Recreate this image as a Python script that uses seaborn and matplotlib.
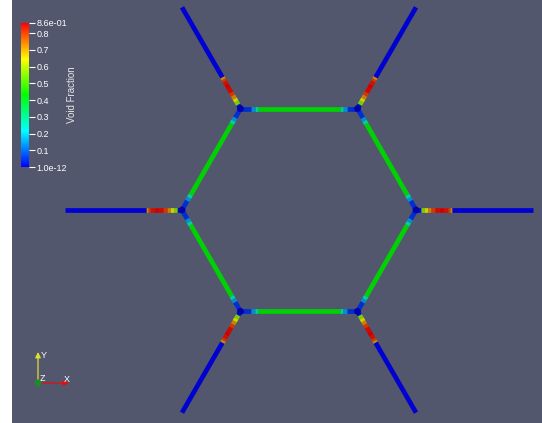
import numpy as np
import matplotlib
matplotlib.use("Agg")
import matplotlib.pyplot as plt
from matplotlib.collections import LineCollection
from matplotlib.colors import Normalize, to_rgb
from matplotlib.cm import ScalarMappable
from matplotlib.patches import Ellipse
import seaborn as sns

# Void fraction along each outer leg, from the hexagon junction outward
# (break positions are fractions of the leg length)
leg_breaks = [0.0, 0.04, 0.07, 0.10, 0.13, 0.16, 0.20, 0.24, 0.27, 0.29, 0.31, 1.0]
leg_values = [0.02, 0.55, 0.64, 0.73, 0.80, 0.85, 0.86, 0.84, 0.80, 0.72, 0.0]

# Void fraction along each hexagon edge, corner to corner
edge_breaks = [0.0, 0.09, 0.12, 0.15, 0.85, 0.88, 0.91, 1.0]
edge_values = [0.05, 0.15, 0.27, 0.43, 0.27, 0.15, 0.05]

# Void fraction at the six junctions
junction_value = 0.0

# Colour bar range and ticks
vmin, vmax = 1.0e-12, 0.86
cbar_ticks = [1.0e-12, 0.1, 0.2, 0.3, 0.4, 0.5, 0.6, 0.7, 0.8, 0.86]
cbar_labels = ["1.0e-12", "0.1", "0.2", "0.3", "0.4", "0.5", "0.6", "0.7", "0.8", "8.6e-01"]
cbar_title = "Void Fraction"

# Network geometry: regular hexagon with radial legs of the same length
R = 1.0
node_angles = np.deg2rad([0, 60, 120, 180, 240, 300])

W, H = 542, 423
BG = "#52576e"
sns.set_theme(style="white")
plt.rcParams["font.family"] = ["Liberation Sans", "DejaVu Sans"]

fig = plt.figure(figsize=(W / 100, H / 100), dpi=100, facecolor="white")
ax = fig.add_axes([12 / W, 0, (W - 12) / W, 1])
ax.set_facecolor(BG)
for sp in ax.spines.values():
    sp.set_visible(False)
ax.set_xticks([])
ax.set_yticks([])

# pixel scale of one radius, and view centre in figure pixels
scale = 117.0
cx, cy = 299.0, 210.0
ax.set_xlim(-(cx - 12) / scale, (W - cx) / scale)
ax.set_ylim(-(H - cy) / scale, cy / scale)

rainbow = ["#0000ff", "#00ffff", "#00ff00", "#ffff00", "#ff0000"]
bar_cmap = sns.blend_palette(rainbow, as_cmap=True)
shade = 0.82
line_cmap = sns.blend_palette([tuple(c * shade for c in to_rgb(h)) for h in rainbow], as_cmap=True)
norm = Normalize(vmin=vmin, vmax=vmax)

verts = np.column_stack([R * np.cos(node_angles), R * np.sin(node_angles)])

segs, vals = [], []
for k in range(6):
    v = verts[k]
    u = v / np.linalg.norm(v)
    for i, val in enumerate(leg_values):
        p0 = v + u * leg_breaks[i] * R
        p1 = v + u * leg_breaks[i + 1] * R
        segs.append([p0, p1])
        vals.append(val)
    a, b = verts[k], verts[(k + 1) % 6]
    for i, val in enumerate(edge_values):
        p0 = a + (b - a) * edge_breaks[i]
        p1 = a + (b - a) * edge_breaks[i + 1]
        segs.append([p0, p1])
        vals.append(val)

lc = LineCollection(segs, cmap=line_cmap, norm=norm, linewidths=3.4, capstyle="butt")
lc.set_array(np.array(vals))
ax.add_collection(lc)

# darker, rounded junction knuckles
junction_cmap = sns.blend_palette([tuple(c * 0.68 for c in to_rgb(h)) for h in rainbow], as_cmap=True)
ax.scatter(verts[:, 0], verts[:, 1], c=[junction_value] * 6, cmap=junction_cmap, norm=norm,
           s=24, linewidths=0, zorder=3)

# colour bar
cax = fig.add_axes([21 / W, 1 - 167 / H, 8 / W, 144 / H])
cb = fig.colorbar(ScalarMappable(norm=norm, cmap=bar_cmap), cax=cax)
cb.outline.set_visible(False)
cb.set_ticks(cbar_ticks)
cb.set_ticklabels(cbar_labels)
cax.tick_params(axis="y", colors="white", labelcolor="white", length=4.3, width=0.8,
                pad=1.2, labelsize=6.5, direction="out", right=True, left=False)
fig.text(72 / W, 1 - 95 / H, cbar_title, rotation=90, ha="center", va="center",
         color="#e8e8e8", fontsize=7)

# orientation triad
ox, oy = 38, H - 383
ax.annotate("", xy=(ox, H - 352), xytext=(ox, oy), xycoords="figure pixels",
            textcoords="figure pixels",
            arrowprops=dict(arrowstyle="-|>", color="#e0e030", lw=0.9, mutation_scale=8,
                            shrinkA=0, shrinkB=0))
ax.annotate("", xy=(69, oy), xytext=(ox, oy), xycoords="figure pixels",
            textcoords="figure pixels",
            arrowprops=dict(arrowstyle="-|>", color="#e01010", lw=0.9, mutation_scale=8,
                            shrinkA=0, shrinkB=0))
fig.patches.append(Ellipse((ox / W, oy / H), 7 / W, 7 / H, transform=fig.transFigure,
                           facecolor="#1f8a2a", edgecolor="none", zorder=5))
fig.text(41 / W, 1 - 355 / H, "Y", color="white", fontsize=6.5, ha="left", va="center")
fig.text(40 / W, 1 - 378 / H, "Z", color="white", fontsize=6.5, ha="left", va="center")
fig.text(64 / W, 1 - 379 / H, "X", color="white", fontsize=6.5, ha="left", va="center")

fig.savefig("out.png", dpi=100, facecolor="white")
